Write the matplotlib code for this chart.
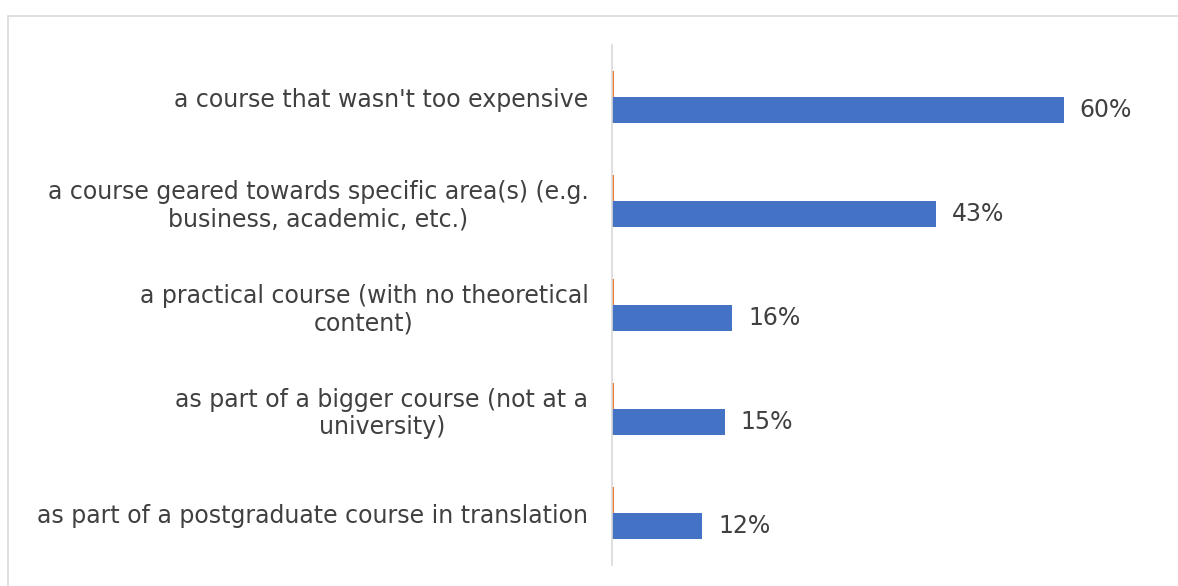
import matplotlib
matplotlib.use("Agg")
import matplotlib.pyplot as plt
import numpy as np
from matplotlib.patches import Rectangle

plt.rcParams["font.family"] = "DejaVu Sans"

categories = [
    "a course that wasn't too expensive",
    "a course geared towards specific area(s) (e.g.\nbusiness, academic, etc.)",
    "a practical course (with no theoretical\ncontent)",
    "as part of a bigger course (not at a\nuniversity)",
    "as part of a postgraduate course in translation",
]
main_pct = [60, 43, 16, 15, 12]
other_pct = [0.3, 0.3, 0.3, 0.3, 0.3]

BLUE = "#4472C4"
ORANGE = "#ED7D31"
TEXT = "#404040"
GRID = "#D9D9D9"

fig = plt.figure(figsize=(11.78, 5.86), dpi=100)
ax = fig.add_axes([612 / 1178, 1 - 565 / 586, (1139 - 612) / 1178, 520 / 586])

# chart area border (cropped on right/bottom like the screenshot)
fig.patches.append(Rectangle((8 / 1178, -0.1), 1.2, 1 - 16 / 586 + 0.1,
                             transform=fig.transFigure, fill=False,
                             edgecolor=GRID, lw=1.2))

y = np.arange(len(categories))
h = 0.25
ax.barh(y - h / 2, other_pct, height=h, color=ORANGE)
ax.barh(y + h / 2, main_pct, height=h, color=BLUE)

for yi, v in zip(y, main_pct):
    ax.text(v + 2.1, yi + h / 2, f"{v}%", va="center", ha="left",
            fontsize=17, color=TEXT)

ax.set_xlim(0, 70)
ax.set_ylim(len(categories) - 0.5, -0.5)
ax.set_xticks([])
ax.set_yticks(y)
ax.set_yticklabels(categories, fontsize=17, color=TEXT,
                   multialignment="center", linespacing=1.2)
ax.tick_params(axis="y", length=0, pad=17)
for s in ("top", "right", "bottom"):
    ax.spines[s].set_visible(False)
ax.spines["left"].set_color(GRID)
ax.spines["left"].set_linewidth(1.2)

fig.savefig("out.png", facecolor="white")
